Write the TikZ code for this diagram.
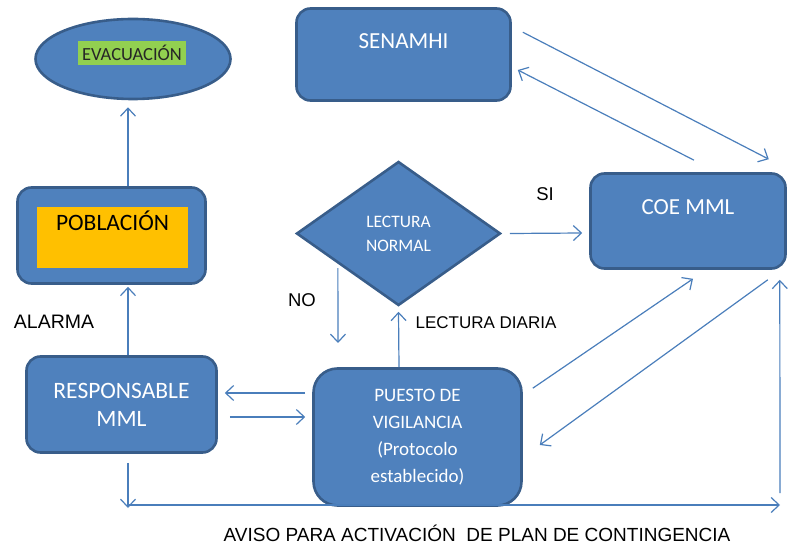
\documentclass[tikz,border=0pt]{standalone}
\usepackage{fontspec}
\setmainfont{Liberation Sans}
\newfontfamily\boxfont{Carlito}
\usetikzlibrary{arrows.meta,shapes.geometric}
\definecolor{boxblue}{HTML}{4F81BD}
\definecolor{boxedge}{HTML}{385D8A}
\definecolor{linkblue}{HTML}{4A7EBB}
\definecolor{evacgreen}{HTML}{92D050}
\definecolor{poborange}{HTML}{FFC000}
\tikzstyle{bluebox} = [rectangle, rounded corners=14pt, fill=boxblue, draw=boxedge, line width=2.6pt, text=white, align=center, inner sep=2pt, font=\boxfont\fontsize{23}{27}\selectfont]
\tikzstyle{link} = [draw=linkblue, line width=1.2pt, -{Straight Barb[length=8pt,width=15pt]}]
\tikzstyle{note} = [text=black, inner sep=0pt, font=\fontsize{18.5}{22}\selectfont]

\begin{document}
\begin{tikzpicture}[x=1pt,y=-1pt]
\useasboundingbox (0,0) rectangle (790,545);

% boxes
\node (evac) [ellipse, fill=boxblue, draw=boxedge, line width=2.6pt, minimum width=195pt, minimum height=80pt] at (133,59) {};
\node (evaclbl) [fill=evacgreen, minimum width=108pt, minimum height=24pt, inner sep=0pt, text=black!85, font=\boxfont\fontsize{18.5}{20}\selectfont] at (132,53) {EVACUACIÓN};
\node (pob) [bluebox, minimum width=188pt, minimum height=96pt] at (111.5,235.5) {};
\node (pobfill) [fill=poborange, minimum width=151pt, minimum height=61pt, inner sep=2pt, align=center, text=black, font=\boxfont\fontsize{23.5}{33}\selectfont] at (112.5,237.5) {POBLACIÓN\\ \mbox{}};
\node (senamhi) [bluebox, minimum width=214pt, minimum height=92pt] at (403.5,54.5) {SENAMHI\\ \mbox{}};
\node (coe) [bluebox, minimum width=195pt, minimum height=95pt] at (688,221) {COE MML\\ \mbox{}};
\node (lectura) [diamond, fill=boxblue, draw=boxedge, line width=2.6pt, minimum width=204pt, minimum height=144pt, inner sep=0pt, text=white, align=center, font=\boxfont\fontsize{17.5}{24}\selectfont] at (398.5,233.5) {LECTURA\\NORMAL};
\node (resp) [bluebox, minimum width=190pt, minimum height=96pt, font=\boxfont\fontsize{23.5}{28}\selectfont] at (121.5,404.5) {RESPONSABLE\\MML};
\node (puesto) [bluebox, rounded corners=24pt, minimum width=208pt, minimum height=137pt, font=\boxfont\fontsize{19}{27}\selectfont] at (417.5,437) {PUESTO DE\\VIGILANCIA\\(Protocolo\\establecido)};

% free ends
\coordinate (avisoL) at (128,505);
\coordinate (avisoR) at (780,505);
\coordinate (noend) at (338,343);

% connectors
\draw[link] ([xshift=16.5pt]pob.north) -- ([xshift=-5pt,yshift=-7pt]evac.south);
\draw[link] ([xshift=6.5pt]resp.north) -- ([xshift=16.5pt,yshift=-2pt]pob.south);
\draw[link] ([xshift=-7pt,yshift=44pt]puesto.west) -- ([xshift=7pt,yshift=11.5pt]resp.east);
\draw[link] ([xshift=12pt,yshift=-12.5pt]resp.east) -- ([xshift=-7pt,yshift=20pt]puesto.west);
\draw[link] ([xshift=6.5pt,yshift=-9pt]resp.south) -- ([yshift=-3pt]avisoL);
\draw[link] (avisoL) -- (avisoR);
\draw[link] ([yshift=12pt]avisoR) -- ([xshift=-7pt,yshift=-10pt]coe.south east);
\draw[link] ([xshift=10pt,yshift=-21pt]puesto.north east) -- ([xshift=5pt,yshift=-9pt]coe.south);
\draw[link] ([xshift=-19pt,yshift=-10pt]coe.south east) -- ([xshift=17pt,yshift=-8pt]puesto.east);
\draw[link] ([xshift=11pt,yshift=-25pt]senamhi.north east) -- ([xshift=-18pt,yshift=13pt]coe.north east);
\draw[link] ([xshift=6pt,yshift=12pt]coe.north) -- ([xshift=6pt,yshift=-15.5pt]senamhi.east);
\draw[link] ([xshift=8pt]lectura.east) -- ([xshift=-7pt,yshift=-12pt]coe.west);
\draw[link] ([xshift=-9pt,yshift=2pt]lectura.south west) -- (noend);
\draw[link] ([xshift=-18.5pt]puesto.north) -- ([yshift=-5pt]lectura.south);

% labels
\node (si) [note] at (545,194) {SI};
\node (no) [note] at (302,300) {NO};
\node (alarma) [note, font=\fontsize{19.5}{22}\selectfont] at (54,322) {ALARMA};
\node (diaria) [note, font=\fontsize{17}{20}\selectfont] at (486,323) {LECTURA DIARIA};
\node (aviso) [note, font=\fontsize{19}{22}\selectfont] at (477,533) {AVISO PARA ACTIVACIÓN\ \ DE PLAN DE CONTINGENCIA};
\end{tikzpicture}
\end{document}
